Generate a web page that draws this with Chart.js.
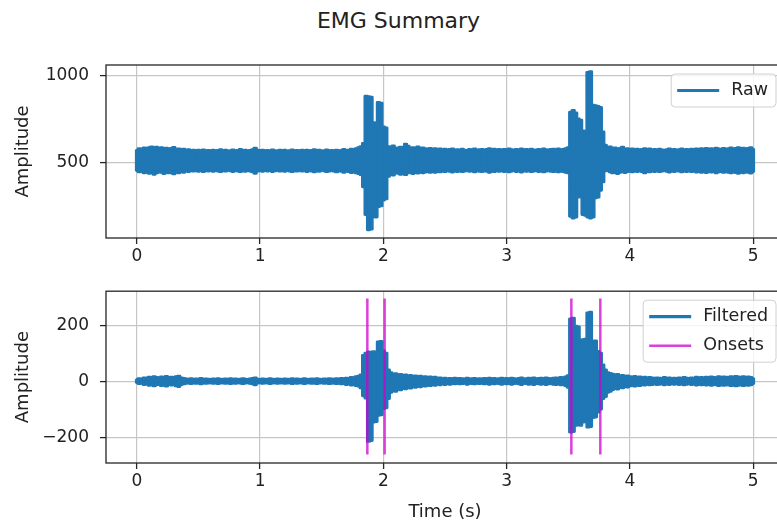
<!DOCTYPE html>
<html>
<head>
<meta charset="utf-8">
<title>EMG Summary</title>
<script src="https://cdn.jsdelivr.net/npm/chart.js@4.4.0/dist/chart.umd.min.js"></script>
<style>
  html, body { margin: 0; padding: 0; background: #fff; overflow: hidden; }
  #fig { position: relative; width: 777px; height: 525px; overflow: hidden; }
  #suptitle {
    position: absolute; left: 0; top: 9px; width: 797px;
    text-align: center; font: 22px "DejaVu Sans", sans-serif;
    line-height: 24px; color: #222;
  }
  canvas { position: absolute; left: 0; }
  #rawChart { top: 0; }
  #filtChart { top: 270px; }
</style>
</head>
<body>
<div id="fig">
  <div id="suptitle">EMG Summary</div>
  <canvas id="rawChart" width="800" height="270"></canvas>
  <canvas id="filtChart" width="800" height="255"></canvas>
</div>
<script>
// envelope samples per second (one upper / lower value every 20 ms, t = 0 .. 5 s)
const SAMPLE_RATE = 50;

const xTicks = [0, 1, 2, 3, 4, 5];
const rawYTicks = [500, 1000];
const rawYTickLabels = ["500", "1000"];
const filtYTicks = [-200, 0, 200];
const filtYTickLabels = ["\u2212200", "0", "200"];

// raw signal, upper and lower edge of the trace
const rawUpper = [
  572, 580, 576, 584, 578, 586, 590, 582, 588, 579,
  585, 578, 583, 576, 581, 587, 574, 579, 572, 577,
  570, 574, 568, 572, 566, 571, 569, 573, 567, 570,
  568, 572, 566, 570, 574, 567, 571, 565, 569, 573,
  567, 570, 575, 568, 572, 566, 570, 574, 583, 571,
  568, 572, 566, 570, 567, 573, 569, 565, 571, 568,
  572, 566, 569, 573, 567, 570, 566, 571, 568, 572,
  566, 570, 574, 567, 571, 565, 569, 573, 568, 570,
  567, 572, 566, 570, 575, 568, 572, 577, 574, 580,
  585, 592, 610, 882, 880, 876, 730, 722, 846, 842,
  705, 700, 592, 590, 596, 578, 584, 588, 582, 606,
  594, 580, 586, 578, 590, 576, 584, 580, 576, 582,
  575, 580, 574, 578, 572, 577, 570, 575, 579, 571,
  574, 569, 577, 572, 568, 575, 571, 578, 570, 574,
  576, 571, 575, 580, 572, 577, 571, 575, 569, 576,
  572, 578, 574, 570, 576, 573, 579, 571, 575, 572,
  577, 573, 570, 576, 572, 578, 574, 571, 575, 577,
  573, 578, 571, 576, 580, 585, 790, 800, 786, 752,
  744, 682, 678, 1020, 1024, 830, 828, 824, 818, 676,
  600, 570, 590, 578, 584, 575, 581, 588, 576, 580,
  574, 579, 572, 577, 571, 576, 580, 573, 578, 571,
  575, 570, 577, 573, 568, 574, 579, 572, 576, 570,
  574, 578, 572, 576, 571, 577, 573, 579, 574, 580,
  576, 582, 575, 580, 577, 583, 578, 575, 581, 576,
  580, 584, 578, 582, 586, 579, 583, 577, 581, 585,
  578
];
const rawLower = [
  452, 446, 449, 441, 447, 438, 444, 432, 440, 447,
  443, 436, 446, 440, 448, 434, 445, 441, 449, 444,
  452, 448, 454, 450, 455, 449, 453, 447, 455, 451,
  454, 449, 455, 451, 447, 454, 450, 456, 452, 448,
  455, 451, 447, 453, 449, 455, 451, 446, 438, 450,
  454, 449, 455, 451, 453, 448, 452, 456, 450, 453,
  449, 455, 451, 447, 454, 450, 456, 451, 453, 448,
  455, 450, 446, 453, 449, 456, 452, 447, 451, 454,
  450, 446, 453, 449, 444, 451, 447, 442, 446, 440,
  436, 430, 360, 200, 112, 116, 190, 186, 246, 250,
  284, 290, 420, 436, 428, 446, 438, 432, 444, 430,
  440, 446, 436, 444, 439, 447, 441, 445, 449, 443,
  448, 444, 450, 446, 452, 447, 453, 449, 445, 451,
  448, 454, 447, 451, 455, 449, 453, 446, 452, 449,
  447, 452, 449, 444, 451, 447, 453, 449, 455, 448,
  452, 446, 450, 454, 448, 451, 445, 453, 449, 452,
  447, 451, 455, 448, 452, 446, 450, 454, 449, 447,
  451, 446, 453, 448, 444, 440, 190, 180, 186, 316,
  300, 200, 196, 186, 180, 186, 296, 300, 340, 388,
  452, 456, 446, 440, 448, 436, 444, 450, 442, 447,
  452, 446, 451, 448, 453, 447, 440, 450, 446, 452,
  448, 453, 447, 451, 455, 449, 445, 452, 448, 454,
  450, 446, 452, 448, 453, 447, 451, 445, 449, 443,
  448, 442, 449, 445, 447, 440, 446, 449, 443, 447,
  444, 440, 446, 442, 438, 445, 441, 447, 443, 439,
  446
];

// filtered signal, upper and lower edge of the trace
const filtUpper = [
  6, 9, 8, 12, 10, 14, 11, 16, 13, 10,
  15, 12, 17, 11, 14, 9, 16, 18, 12, 10,
  8, 7, 9, 6, 8, 7, 10, 6, 8, 7,
  6, 8, 7, 9, 6, 7, 8, 6, 9, 7,
  8, 6, 7, 9, 7, 6, 8, 10, 12, 7,
  6, 8, 7, 6, 9, 7, 6, 8, 7, 6,
  8, 7, 6, 9, 7, 8, 6, 7, 9, 6,
  7, 8, 6, 9, 7, 6, 8, 7, 9, 8,
  7, 9, 8, 10, 9, 11, 10, 13, 12, 16,
  18, 22, 92, 100, 104, 98, 105, 102, 140, 142,
  108, 100, 40, 30, 24, 27, 20, 24, 18, 22,
  17, 21, 15, 19, 14, 18, 13, 16, 12, 15,
  11, 14, 10, 12, 9, 11, 8, 10, 9, 11,
  8, 10, 9, 7, 11, 8, 9, 10, 7, 9,
  8, 10, 9, 11, 8, 10, 7, 9, 11, 8,
  10, 8, 11, 9, 7, 10, 12, 8, 9, 11,
  9, 12, 8, 10, 11, 9, 12, 10, 8, 11,
  12, 10, 13, 11, 15, 20, 222, 225, 196, 194,
  146, 148, 150, 244, 246, 142, 144, 106, 100, 58,
  40, 30, 28, 25, 22, 24, 19, 21, 17, 19,
  16, 14, 17, 13, 15, 12, 14, 11, 13, 12,
  10, 12, 11, 9, 13, 10, 12, 9, 11, 10,
  12, 10, 13, 11, 9, 12, 10, 14, 11, 13,
  12, 14, 11, 15, 13, 12, 16, 13, 15, 14,
  13, 16, 14, 17, 15, 13, 16, 14, 15, 13,
  10
];
const filtLower = [
  -6, -9, -8, -12, -10, -15, -11, -17, -13, -10,
  -16, -12, -18, -11, -14, -9, -17, -19, -12, -10,
  -8, -7, -9, -6, -8, -7, -10, -6, -8, -7,
  -6, -8, -7, -9, -6, -7, -8, -6, -9, -7,
  -8, -6, -7, -9, -7, -6, -8, -10, -13, -7,
  -6, -8, -7, -6, -9, -7, -6, -8, -7, -6,
  -8, -7, -6, -9, -7, -8, -6, -7, -9, -6,
  -7, -8, -6, -9, -7, -6, -8, -7, -9, -8,
  -7, -9, -8, -10, -9, -12, -10, -14, -12, -16,
  -18, -24, -52, -60, -215, -212, -146, -144, -122, -120,
  -98, -95, -62, -40, -32, -36, -28, -31, -24, -27,
  -21, -25, -18, -22, -16, -20, -14, -18, -13, -16,
  -12, -15, -10, -13, -9, -12, -8, -11, -9, -10,
  -8, -10, -9, -7, -11, -8, -9, -10, -7, -9,
  -8, -10, -9, -11, -8, -10, -7, -9, -11, -8,
  -10, -8, -11, -9, -7, -10, -12, -8, -9, -11,
  -9, -12, -8, -10, -11, -9, -12, -10, -8, -11,
  -12, -10, -13, -11, -16, -22, -182, -180, -158, -156,
  -158, -146, -145, -164, -162, -130, -128, -110, -100, -62,
  -55, -40, -36, -30, -26, -28, -22, -24, -19, -21,
  -17, -15, -18, -13, -16, -12, -14, -11, -13, -12,
  -10, -12, -11, -9, -13, -10, -12, -9, -11, -10,
  -12, -10, -13, -11, -9, -12, -10, -14, -11, -13,
  -12, -14, -11, -15, -13, -12, -16, -13, -15, -14,
  -13, -16, -14, -17, -15, -13, -16, -14, -15, -13,
  -10
];

// detected onsets / offsets (s) and the vertical extent of their markers
const onsetTimes = [1.87, 2.01, 3.525, 3.76];
const onsetSpan = [-262, 295];

const BLUE = "#1f77b4";
const ONSET_COLOR = "rgba(206, 0, 206, 0.75)";
const GRID = "#c6c6c6";
const AXIS = "#262626";
const TEXT = "#222222";
const FONT = "'DejaVu Sans', sans-serif";

function toPoints(values) {
  return values.map((v, i) => ({ x: i / SAMPLE_RATE, y: v }));
}

// trace = solid body (floating bars lower..upper) + stepped edge lines
function trace(label, upper, lower) {
  const edge = {
    type: "line",
    borderColor: BLUE,
    borderWidth: 2.8,
    borderJoinStyle: "round",
    borderCapStyle: "round",
    stepped: "middle",
    pointRadius: 0,
    fill: false
  };
  return [
    Object.assign({ label: label, data: toPoints(upper) }, edge),
    Object.assign({ label: label + " lower", data: toPoints(lower) }, edge),
    {
      type: "bar",
      label: label + " body",
      data: upper.map((hi, i) => ({ x: i / SAMPLE_RATE, y: [lower[i], hi] })),
      backgroundColor: BLUE,
      borderWidth: 0,
      barThickness: 3.2,
      grouped: false
    }
  ];
}

// ---- plugins: full axes frame + matplotlib style legend box ----
const framePlugin = {
  id: "frame",
  afterDatasetsDraw(chart) {
    const { ctx, chartArea: a } = chart;
    ctx.save();
    ctx.strokeStyle = AXIS;
    ctx.lineWidth = 1.3;
    ctx.strokeRect(a.left, a.top, a.right - a.left, a.bottom - a.top);
    ctx.restore();
  }
};

function roundedRect(ctx, x, y, w, h, r) {
  ctx.beginPath();
  ctx.moveTo(x + r, y);
  ctx.lineTo(x + w - r, y);
  ctx.arcTo(x + w, y, x + w, y + r, r);
  ctx.lineTo(x + w, y + h - r);
  ctx.arcTo(x + w, y + h, x + w - r, y + h, r);
  ctx.lineTo(x + r, y + h);
  ctx.arcTo(x, y + h, x, y + h - r, r);
  ctx.lineTo(x, y + r);
  ctx.arcTo(x, y, x + r, y, r);
  ctx.closePath();
}

const boxLegend = {
  id: "boxLegend",
  afterDraw(chart, args, opts) {
    const { ctx, chartArea: a } = chart;
    const items = opts.items || [];
    ctx.save();
    ctx.font = "17.5px " + FONT;
    const textW = Math.max(...items.map((it) => ctx.measureText(it.label).width));
    const rowH = 29;
    const w = 6 + 42 + 12 + textW + 8;
    const h = items.length * rowH + 4;
    const x = a.right - 8 - w;
    const y = a.top + 9;

    roundedRect(ctx, x, y, w, h, 4);
    ctx.fillStyle = "rgba(255,255,255,0.8)";
    ctx.fill();
    ctx.strokeStyle = "#d0d0d0";
    ctx.lineWidth = 1;
    ctx.stroke();

    items.forEach((it, i) => {
      const cy = y + 2 + rowH * (i + 0.5);
      ctx.strokeStyle = it.color;
      ctx.lineWidth = it.width;
      ctx.beginPath();
      ctx.moveTo(x + 6, cy);
      ctx.lineTo(x + 48, cy);
      ctx.stroke();
      ctx.fillStyle = TEXT;
      ctx.textAlign = "left";
      ctx.textBaseline = "middle";
      ctx.fillText(it.label, x + 60, cy);
    });
    ctx.restore();
  }
};

function makeScales(yMin, yMax, yTicks, yLabels, xAxisHeight, xTitle) {
  const tickFont = { family: FONT, size: 17 };
  const gridOpts = {
    color: GRID,
    lineWidth: 1.2,
    offset: false,
    drawTicks: true,
    tickLength: 6,
    tickColor: AXIS,
    tickWidth: 1.3
  };
  return {
    x: {
      type: "linear",
      min: -0.25,
      max: 5.25,
      offset: false,
      afterBuildTicks: (scale) => { scale.ticks = xTicks.map((v) => ({ value: v })); },
      afterFit: (scale) => { scale.height = xAxisHeight; },
      grid: gridOpts,
      border: { display: false },
      ticks: {
        font: tickFont, color: TEXT, padding: 2,
        maxRotation: 0, autoSkip: false,
        callback: (value) => String(value)
      },
      title: {
        display: !!xTitle,
        text: xTitle || "",
        font: { family: FONT, size: 18 },
        color: TEXT,
        padding: { top: 0, bottom: 0 }
      }
    },
    y: {
      type: "linear",
      min: yMin,
      max: yMax,
      afterBuildTicks: (scale) => { scale.ticks = yTicks.map((v) => ({ value: v })); },
      afterFit: (scale) => { scale.width = 106; },
      grid: gridOpts,
      border: { display: false },
      ticks: {
        font: tickFont, color: TEXT, padding: 11,
        callback: (value) => yLabels[yTicks.indexOf(value)]
      },
      title: {
        display: true,
        text: "Amplitude",
        font: { family: FONT, size: 18 },
        color: TEXT,
        padding: { top: 13, bottom: 0 }
      }
    }
  };
}

const baseOptions = {
  responsive: false,
  animation: false,
  devicePixelRatio: 1,
  events: []
};

// ---- top panel: raw EMG ----
new Chart(document.getElementById("rawChart"), {
  type: "line",
  data: { datasets: trace("Raw", rawUpper, rawLower) },
  plugins: [framePlugin, boxLegend],
  options: Object.assign({}, baseOptions, {
    layout: { padding: { top: 65, right: 16, bottom: 2, left: 0 } },
    plugins: {
      legend: { display: false },
      tooltip: { enabled: false },
      boxLegend: { items: [{ label: "Raw", color: BLUE, width: 3.2 }] }
    },
    scales: makeScales(65, 1062, rawYTicks, rawYTickLabels, 30, null)
  })
});

// ---- bottom panel: filtered EMG with onset markers ----
const onsetPoints = [];
onsetTimes.forEach((t) => {
  onsetPoints.push({ x: t, y: onsetSpan[0] }, { x: t, y: onsetSpan[1] }, { x: t, y: null });
});

new Chart(document.getElementById("filtChart"), {
  type: "line",
  data: {
    datasets: [
      {
        label: "Onsets",
        data: onsetPoints,
        borderColor: ONSET_COLOR,
        borderWidth: 2.5,
        pointRadius: 0,
        spanGaps: false,
        fill: false
      }
    ].concat(trace("Filtered", filtUpper, filtLower))
  },
  plugins: [framePlugin, boxLegend],
  options: Object.assign({}, baseOptions, {
    layout: { padding: { top: 20, right: 16, bottom: 2, left: 0 } },
    plugins: {
      legend: { display: false },
      tooltip: { enabled: false },
      boxLegend: {
        items: [
          { label: "Filtered", color: BLUE, width: 3.2 },
          { label: "Onsets", color: ONSET_COLOR, width: 2.5 }
        ]
      }
    },
    scales: makeScales(-292, 321, filtYTicks, filtYTickLabels, 60, "Time (s)")
  })
});
</script>
</body>
</html>
